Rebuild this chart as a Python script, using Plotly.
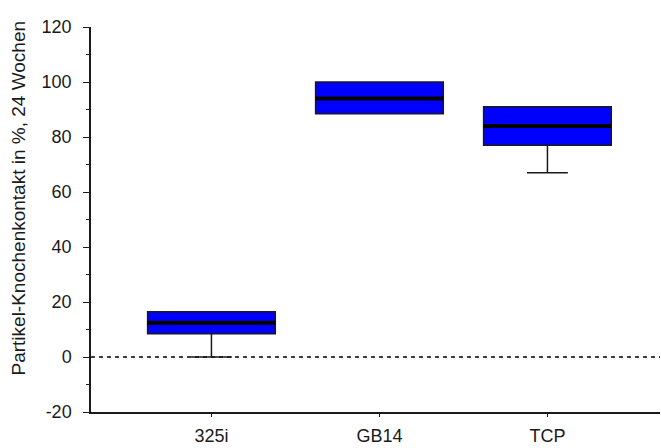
import plotly.graph_objects as go

# Particle-bone contact after 24 weeks, per material
categories = ["325i", "GB14", "TCP"]
q1_vals = [8.5, 88.5, 77.0]
median_vals = [12.5, 94.0, 84.0]
q3_vals = [16.5, 100.0, 91.0]
lower_fence = [0.0, 88.5, 67.0]
upper_fence = [16.5, 100.0, 91.0]

y_ticks = [-20, 0, 20, 40, 60, 80, 100, 120]
y_tick_labels = ["-20", "0", "20", "40", "60", "80", "100", "120"]

BOX_WIDTH = 0.76
INK = "#1a1a1a"
FONT = "Liberation Sans, Arial, sans-serif"

fig = go.Figure()

xs = list(range(len(categories)))
for i in xs:
    fig.add_trace(go.Box(
        x=[i],
        q1=[q1_vals[i]], median=[median_vals[i]], q3=[q3_vals[i]],
        lowerfence=[lower_fence[i]], upperfence=[upper_fence[i]],
        width=BOX_WIDTH, whiskerwidth=0.32,
        fillcolor="#0000ff",
        line=dict(color=INK, width=1.5),
        showlegend=False, hoverinfo="skip",
    ))
    # thick median bar across the box
    fig.add_trace(go.Scatter(
        x=[i - BOX_WIDTH / 2, i + BOX_WIDTH / 2],
        y=[median_vals[i], median_vals[i]],
        mode="lines", line=dict(color="#000000", width=4),
        showlegend=False, hoverinfo="skip",
    ))

# zero reference line
fig.add_shape(type="line", xref="paper", yref="y", x0=0, x1=1, y0=0, y1=0,
              line=dict(color="#000000", width=1.6, dash="4px,4px"), layer="below")

fig.add_annotation(
    text="Partikel-Knochenkontakt in %, 24 Wochen",
    xref="paper", yref="paper", x=-0.128, y=0.555,
    textangle=-90, showarrow=False,
    xanchor="center", yanchor="middle",
    font=dict(family=FONT, size=19, color=INK),
)

fig.update_layout(
    width=661, height=448,
    margin=dict(l=91, r=1, t=27, b=36),
    paper_bgcolor="white", plot_bgcolor="white",
    font=dict(family=FONT, size=18, color=INK),
    xaxis=dict(
        range=[-0.717, 2.67],
        tickvals=xs, ticktext=categories,
        showline=True, linecolor=INK, linewidth=1.5,
        ticks="outside", ticklen=3, tickcolor=INK,
        ticklabelstandoff=4,
        showgrid=False, zeroline=False,
        tickfont=dict(size=18),
    ),
    yaxis=dict(
        range=[-20, 120],
        tickvals=y_ticks, ticktext=y_tick_labels,
        showline=True, linecolor=INK, linewidth=1.5,
        ticks="outside", ticklen=6, tickcolor=INK,
        ticklabelstandoff=8,
        minor=dict(dtick=10, ticks="outside", ticklen=3, tickcolor=INK),
        showgrid=False, zeroline=False,
        tickfont=dict(size=18),
    ),
)

fig.write_html("out.html")
